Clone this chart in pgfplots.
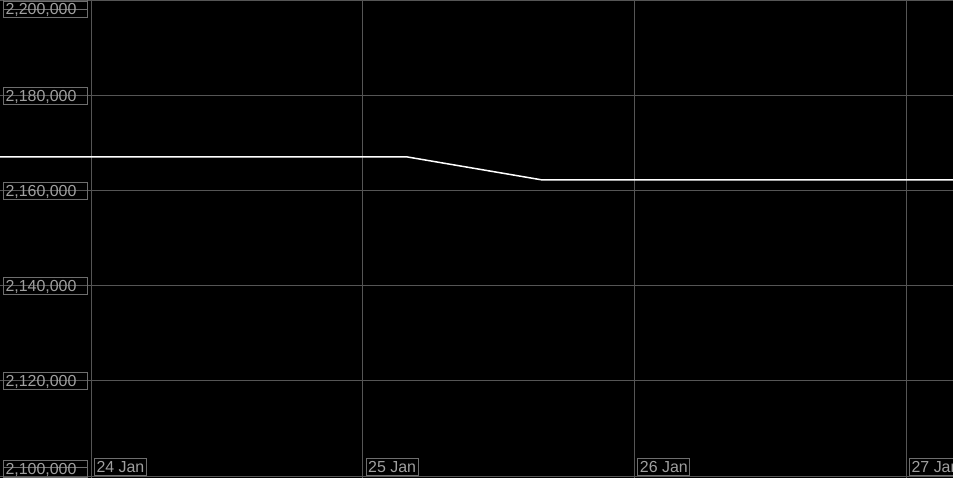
\documentclass[border=0pt]{standalone}
\usepackage{pgfplots}
\pgfplotsset{compat=1.18}
\usepackage{fontspec}
\setmainfont{Liberation Sans}
\definecolor{gridc}{RGB}{85,85,85}
\definecolor{boxc}{RGB}{110,110,110}
\definecolor{textc}{RGB}{160,160,160}
\tikzset{lbl/.style={draw=boxc, text=textc, line width=1bp, inner xsep=2bp, inner ysep=2bp, text height=11.5bp, text depth=1bp, font=\fontsize{16}{18}\selectfont}}
\begin{document}
\begin{tikzpicture}
\begin{axis}[
  scale only axis, width=953bp, height=478bp,
  xmin=-0.335, xmax=3.1726, ymin=2099579, ymax=2200210,
  axis background/.style={fill=black},
  axis line style={draw=none},
  major tick length=0pt,
  xtick={0,1,2,3}, xticklabels={24 Jan,25 Jan,26 Jan,27 Jan},
  ytick={2120000,2140000,2160000,2180000},
  yticklabels={{2,120,000},{2,140,000},{2,160,000},{2,180,000}},
  extra y ticks={2100000,2200000}, extra y tick labels={},
  extra y tick style={grid=major},
  grid=major, major grid style={gridc, line width=1bp},
  yticklabel style={lbl, anchor=west, xshift=3bp, text width=80bp, align=left},
  xticklabel style={lbl, anchor=south west, xshift=3bp, yshift=2bp},
]
\addplot[white, line width=1.5bp] coordinates {
  (-0.335,2167158) (1.165,2167158) (1.662,2162316) (3.1726,2162316)
};
\node[lbl, anchor=south west, text width=80bp, align=left] at (rel axis cs:0,0) [xshift=3bp, yshift=0.5bp] {2,100,000};
\node[lbl, anchor=north west, text width=80bp, align=left] at (rel axis cs:0,1) [xshift=3bp, yshift=-1bp] {2,200,000};
\end{axis}
\pgfresetboundingbox
\useasboundingbox (current axis.south west) rectangle (current axis.north east);
\end{tikzpicture}
\end{document}
